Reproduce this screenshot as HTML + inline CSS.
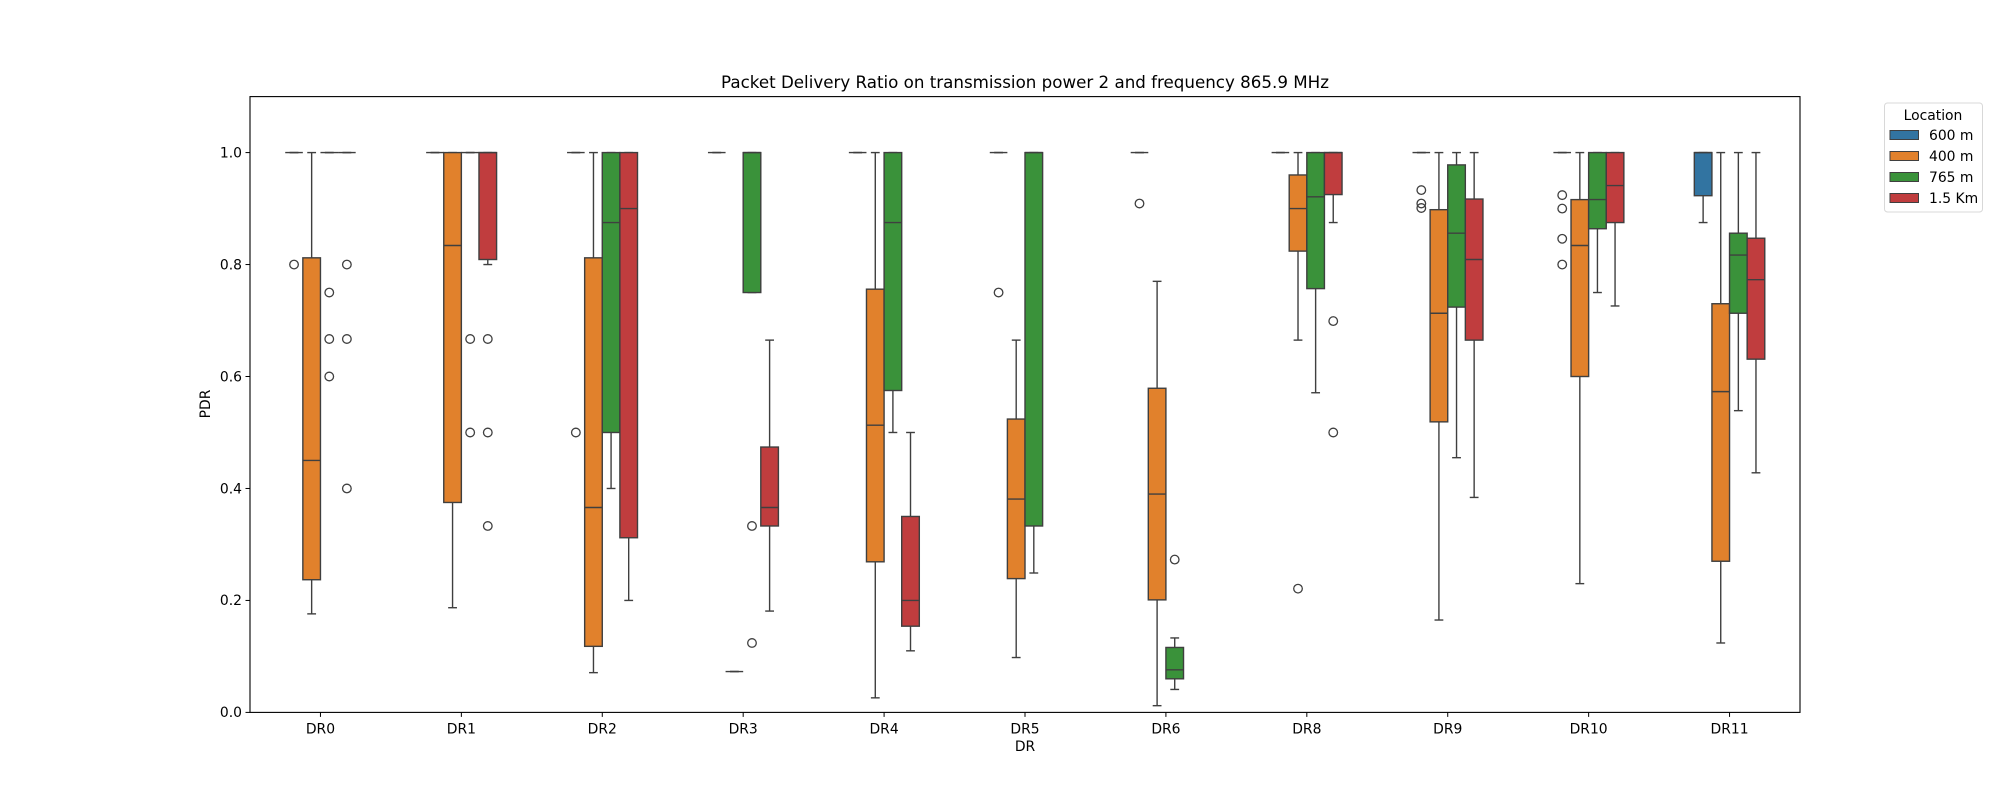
<!DOCTYPE html>
<html><head><meta charset="utf-8"><style>
html,body{margin:0;padding:0;background:#fff;}
svg{display:block;font-family:"DejaVu Sans","Liberation Sans",sans-serif;}
</style></head><body>
<svg id="chart" width="2000" height="800" viewBox="0 0 2000 800">
<text x="1025" y="88" font-size="16.7" text-anchor="middle" fill="#000">Packet Delivery Ratio on transmission power 2 and frequency 865.9 MHz</text>
<g id="plot"></g>
<rect x="250" y="96.6" width="1550" height="615.8" fill="none" stroke="#000" stroke-width="1.1"/>
<text x="1025" y="751" font-size="13.9" text-anchor="middle">DR</text>
<text x="210" y="404" font-size="13.9" text-anchor="middle" transform="rotate(-90 210 404)">PDR</text>
<g>
<rect x="1884.5" y="103" width="98" height="109" rx="3" fill="#fff" stroke="#d8d8d8"/>
<text x="1933" y="120" font-size="13.9" text-anchor="middle">Location</text>
<g id="legend-items"></g>
</g>
</svg>
<script>
const categories = ["DR0","DR1","DR2","DR3","DR4","DR5","DR6","DR8","DR9","DR10","DR11"];
const hues = ["600 m","400 m","765 m","1.5 Km"];
const yTicks = [0.0,0.2,0.4,0.6,0.8,1.0];
// each stat: [lowWhisker, q1, median, q3, highWhisker] or null
const series600 = [[1,1,1,1,1],[1,1,1,1,1],[1,1,1,1,1],[1,1,1,1,1],[1,1,1,1,1],[1,1,1,1,1],[1,1,1,1,1],[1,1,1,1,1],[1,1,1,1,1],[1,1,1,1,1],[0.875,0.923,1,1,1]];
const series400 = [[0.176,0.237,0.450,0.812,1],[0.187,0.375,0.834,1,1],[0.071,0.118,0.366,0.812,1],[0.073,0.073,0.073,0.073,0.073],[0.026,0.269,0.513,0.756,1],[0.098,0.239,0.381,0.524,0.665],[0.012,0.201,0.390,0.579,0.770],[0.665,0.824,0.900,0.960,1],[0.165,0.519,0.713,0.898,1],[0.230,0.600,0.834,0.916,1],[0.124,0.270,0.573,0.730,1]];
const series765 = [[1,1,1,1,1],[1,1,1,1,1],[0.4,0.5,0.875,1,1],[0.75,0.75,1,1,1],[0.5,0.575,0.875,1,1],[0.249,0.333,1,1,1],[0.041,0.060,0.076,0.116,0.133],[0.571,0.757,0.921,1,1],[0.455,0.724,0.856,0.978,1],[0.75,0.864,0.916,1,1],[0.539,0.713,0.817,0.856,1]];
const series15 = [[1,1,1,1,1],[0.8,0.809,1,1,1],[0.2,0.312,0.9,1,1],[0.181,0.333,0.366,0.474,0.665],[0.11,0.154,0.2,0.35,0.5],null,null,[0.875,0.925,1,1,1],[0.384,0.665,0.809,0.917,1],[0.726,0.875,0.941,1,1],[0.428,0.631,0.773,0.847,1]];
const outliers600 = [[0.8],[],[0.5],[],[],[0.75],[0.909],[],[0.933,0.909,0.901],[0.924,0.9,0.846,0.8],[]];
const outliers400 = [[],[],[],[],[],[],[],[0.221],[],[],[]];
const outliers765 = [[0.75,0.667,0.6],[0.667,0.5],[],[0.333,0.124],[],[],[0.273],[],[],[],[]];
const outliers15 = [[0.8,0.667,0.4],[0.667,0.5,0.333],[],[],[],[],[],[0.699,0.5],[],[],[]];
const colors = ["#3274a1","#e1812c","#3a923a","#c03d3e"];
const allSeries = [series600,series400,series765,series15];
const allOut = [outliers600,outliers400,outliers765,outliers15];

const NS="http://www.w3.org/2000/svg";
const X0=250,X1=1800,Y0=712.4,Y1=96.6,YMAX=1.1;
const band=(X1-X0)/categories.length;
const xC=i=>X0+band*(i+0.5);
const y=v=>Y0-(Y0-Y1)*v/YMAX;
const bw=band*0.125;
const plot=document.getElementById('plot');
function mk(tag,attrs,parent){const e=document.createElementNS(NS,tag);for(const k in attrs)e.setAttribute(k,attrs[k]);(parent||plot).appendChild(e);return e;}
const LC="#3f3f3f";

yTicks.forEach(t=>{
  const g=mk('g',{});
  
  
  mk('line',{x1:X0-4.5,x2:X0,y1:y(t),y2:y(t),stroke:'#000','stroke-width':1},g);
  const tx=mk('text',{x:X0-8,y:y(t)+4.8,'font-size':13.9,'text-anchor':'end'},g);
  tx.textContent=t.toFixed(1);
});
categories.forEach((c,i)=>{
  const g=mk('g',{});
  
  
  mk('line',{x1:xC(i),x2:xC(i),y1:Y0,y2:Y0+4.5,stroke:'#000','stroke-width':1},g);
  const tx=mk('text',{x:xC(i),y:Y0+21,'font-size':13.9,'text-anchor':'middle'},g);
  tx.textContent=c;
});
allSeries.forEach((ser,h)=>{
  ser.forEach((s,i)=>{
    if(!s)return;
    const cx=xC(i)+(h-1.5)*bw;
    const g=mk('g',{});
    
    
    const [lo,q1,md,q3,hi]=s;
    mk('line',{x1:cx,x2:cx,y1:y(hi),y2:y(q3),stroke:LC,'stroke-width':1.4},g);
    mk('line',{x1:cx,x2:cx,y1:y(q1),y2:y(lo),stroke:LC,'stroke-width':1.4},g);
    mk('line',{x1:cx-bw/4,x2:cx+bw/4,y1:y(hi),y2:y(hi),stroke:LC,'stroke-width':1.4},g);
    mk('line',{x1:cx-bw/4,x2:cx+bw/4,y1:y(lo),y2:y(lo),stroke:LC,'stroke-width':1.4},g);
    mk('rect',{x:cx-bw/2,y:y(q3),width:bw,height:Math.max(0,y(q1)-y(q3)),fill:colors[h],stroke:LC,'stroke-width':1.4},g);
    mk('line',{x1:cx-bw/2,x2:cx+bw/2,y1:y(md),y2:y(md),stroke:LC,'stroke-width':1.4},g);
  });
});
allOut.forEach((ser,h)=>{
  ser.forEach((arr,i)=>{
    const cx=xC(i)+(h-1.5)*bw;
    arr.forEach(v=>{
      const c=mk('circle',{cx:cx,cy:y(v),r:4.3,fill:'none',stroke:LC,'stroke-width':1.3});
      
      
    });
  });
});
const lg=document.getElementById('legend-items');
hues.forEach((hname,h)=>{
  const yy=135+h*21;
  const g=document.createElementNS(NS,'g');lg.appendChild(g);
  
  
  mk('rect',{x:1890,y:yy-4.5,width:28.5,height:9,fill:colors[h],stroke:LC,'stroke-width':1},g);
  const t=mk('text',{x:1929,y:yy+5,'font-size':13.9},g);
  t.textContent=hname;
});
</script>
</body></html>
